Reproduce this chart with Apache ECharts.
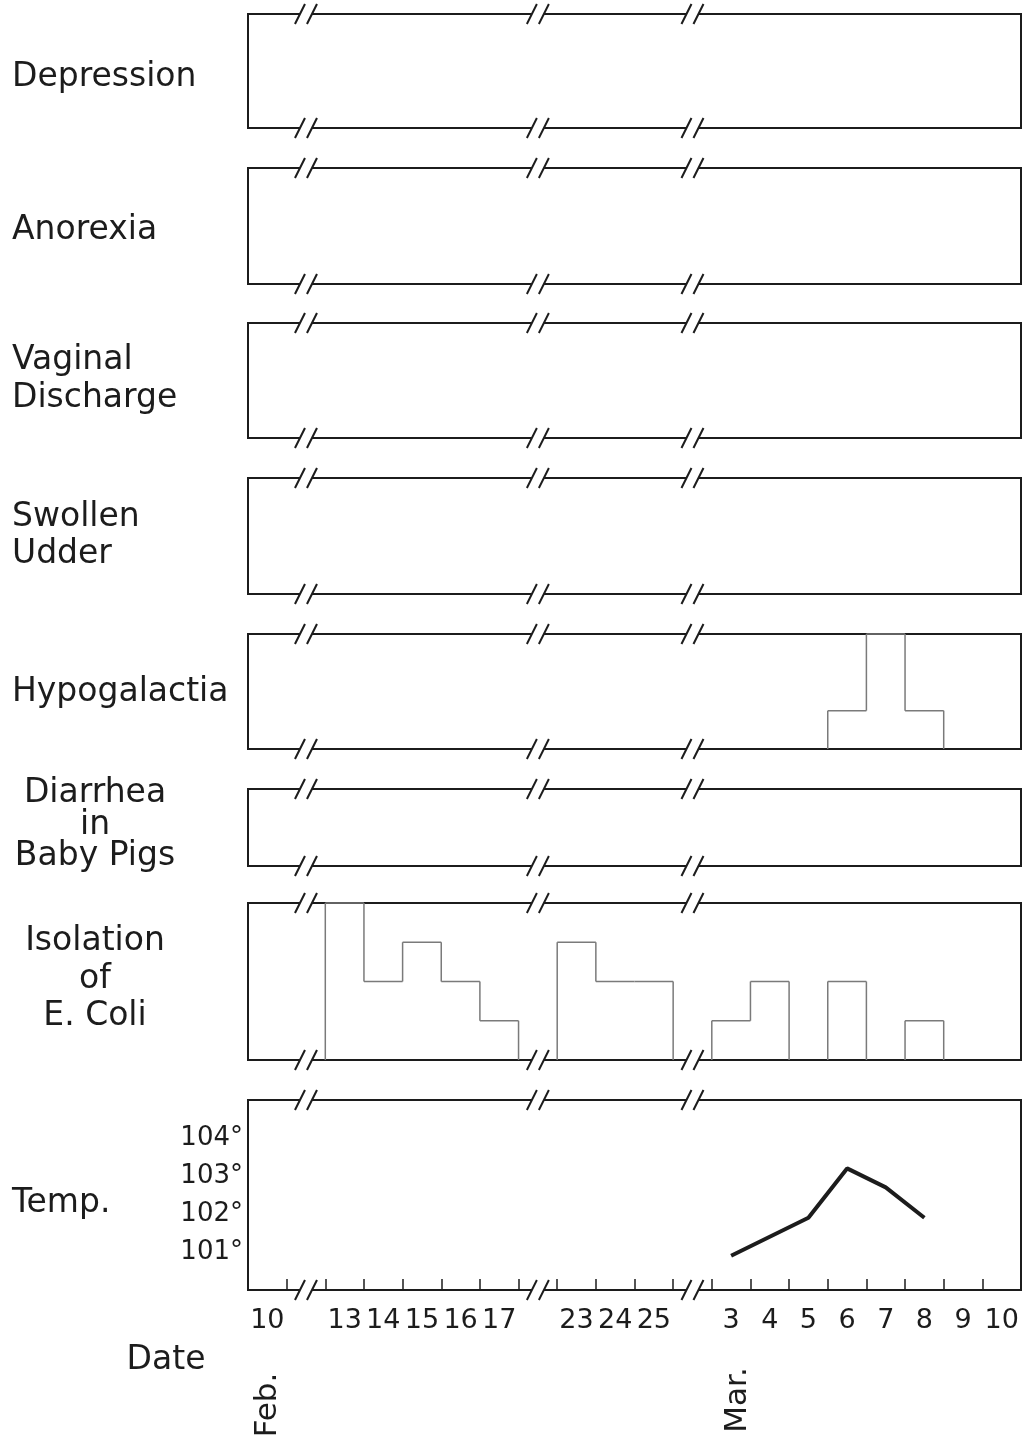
<!DOCTYPE html>
<html>
<head>
<meta charset="utf-8">
<script src="https://cdn.jsdelivr.net/npm/echarts@6/dist/echarts.min.js"></script>
<style>
html, body { margin: 0; padding: 0; background: #fff; }
#chart { width: 1023px; height: 1438px; }
</style>
</head>
<body>
<div id="chart"></div>
<script>
// day slots along the bottom; '' = broken (skipped) stretch of days
var days = ['10', '', '13', '14', '15', '16', '17', '', '23', '24', '25', '', '3', '4', '5', '6', '7', '8', '9', '10'];
var gapSlots = [1, 7, 11];

// symptom scores per slot (0 = none)
var depression   = [0, 0, 0, 0, 0, 0, 0, 0, 0, 0, 0, 0, 0, 0, 0, 0, 0, 0, 0, 0];
var anorexia     = [0, 0, 0, 0, 0, 0, 0, 0, 0, 0, 0, 0, 0, 0, 0, 0, 0, 0, 0, 0];
var vaginal      = [0, 0, 0, 0, 0, 0, 0, 0, 0, 0, 0, 0, 0, 0, 0, 0, 0, 0, 0, 0];
var udder        = [0, 0, 0, 0, 0, 0, 0, 0, 0, 0, 0, 0, 0, 0, 0, 0, 0, 0, 0, 0];
var hypogalactia = [0, 0, 0, 0, 0, 0, 0, 0, 0, 0, 0, 0, 0, 0, 0, 1, 3, 1, 0, 0];
var diarrhea     = [0, 0, 0, 0, 0, 0, 0, 0, 0, 0, 0, 0, 0, 0, 0, 0, 0, 0, 0, 0];
var ecoli        = [0, 0, 4, 2, 3, 2, 1, 0, 3, 2, 2, 0, 1, 2, 0, 2, 0, 1, 0, 0];
var temp = [null, null, null, null, null, null, null, null, null, null, null, null,
            100.9, null, 101.9, 103.2, 102.7, 101.9, null, null];
var tempTicks = [101, 102, 103, 104];

var rowLabels = ['Depression', 'Anorexia', 'Vaginal\nDischarge', 'Swollen\nUdder',
                 'Hypogalactia', 'Diarrhea\nin\nBaby Pigs', 'Isolation\nof\nE. Coli', 'Temp.'];
var rowValues = [depression, anorexia, vaginal, udder, hypogalactia, diarrhea, ecoli];
var rowMax = [3, 3, 3, 3, 3, 2, 4];

// layout
var panelTops = [14, 168, 323, 478, 634, 789, 903, 1100];
var panelHeights = [114, 116, 115, 116, 115, 77, 157, 190];
var labelY = [77, 230, 379, 536, 692, 825, 979, 1203];
var labelCentered = [false, false, false, false, false, true, true, false];
var labelLineH = [36, 36, 38, 37, 36, 31.5, 37.5, 36];

var FONT = '"DejaVu Sans", sans-serif';
var INK = '#1c1c1c';

function stepRender(vals) {
    return function (params, api) {
        var i = api.value(0);
        var v = vals[i] || 0;
        var prev = i > 0 ? (vals[i - 1] || 0) : 0;
        var w = api.size([1, 0])[0];
        var top = api.coord([i, v]);
        var base = api.coord([i, 0])[1];
        var prevY = api.coord([i, prev])[1];
        var x0 = top[0] - w / 2, x1 = top[0] + w / 2;
        var style = { stroke: '#7a7a7a', lineWidth: 1.5 };
        var kids = [];
        if (v !== prev) {
            kids.push({ type: 'line', shape: { x1: x0, y1: prevY, x2: x0, y2: top[1] }, style: style });
        }
        if (v > 0) {
            kids.push({ type: 'line', shape: { x1: x0, y1: top[1], x2: x1, y2: top[1] }, style: style });
            if (i === vals.length - 1) {
                kids.push({ type: 'line', shape: { x1: x1, y1: top[1], x2: x1, y2: base }, style: style });
            }
        }
        return { type: 'group', children: kids };
    };
}

function breakRender(params, api) {
    var cx = api.coord([api.value(0), api.value(1)])[0];
    var cs = params.coordSys;
    var kids = [];
    [cs.y, cs.y + cs.height].forEach(function (y) {
        kids.push({ type: 'rect', shape: { x: cx - 6, y: y - 4, width: 12, height: 8 }, style: { fill: '#fff' } });
        [-6, 6].forEach(function (d) {
            kids.push({ type: 'line', shape: { x1: cx + d - 5, y1: y + 10, x2: cx + d + 5, y2: y - 10 },
                        style: { stroke: INK, lineWidth: 2 } });
        });
    });
    return { type: 'group', children: kids };
}

var grids = [], xAxes = [], yAxes = [], series = [], graphics = [];
for (var p = 0; p < 8; p++) {
    grids.push({
        left: 248, right: 2, top: panelTops[p], height: panelHeights[p],
        show: true, borderColor: INK, borderWidth: 2, backgroundColor: 'transparent'
    });
    var isTemp = p === 7;
    xAxes.push({
        type: 'category', gridIndex: p, data: days, boundaryGap: true,
        show: isTemp,
        axisLine: { show: false },
        axisTick: { show: isTemp, inside: true, length: 11, interval: 0, lineStyle: { color: INK, width: 1.5 } },
        axisLabel: { show: isTemp, interval: 0, margin: 17, fontSize: 27, color: INK, fontFamily: FONT }
    });
    if (isTemp) {
        yAxes.push({
            type: 'value', gridIndex: p, min: 100, max: 105, interval: 1,
            axisLine: { show: false }, axisTick: { show: false }, splitLine: { show: false },
            axisLabel: {
                margin: 5, fontSize: 26, color: INK, fontFamily: FONT,
                formatter: function (v) { return tempTicks.indexOf(v) >= 0 ? v + '°' : ''; }
            }
        });
        series.push({
            type: 'line', xAxisIndex: p, yAxisIndex: p, data: temp, connectNulls: true,
            symbol: 'none', lineStyle: { color: INK, width: 4 }, z: 3
        });
    } else {
        yAxes.push({ type: 'value', gridIndex: p, min: 0, max: rowMax[p], show: false, splitLine: { show: false } });
        series.push({
            type: 'custom', xAxisIndex: p, yAxisIndex: p,
            data: rowValues[p].map(function (v, i) { return [i, v]; }),
            encode: { x: 0, y: 1 }, clip: false,
            renderItem: stepRender(rowValues[p])
        });
    }
    series.push({
        type: 'custom', xAxisIndex: p, yAxisIndex: p, z: 5,
        data: gapSlots.map(function (g) { return [g, isTemp ? 100 : 0]; }),
        encode: { x: 0, y: 1 }, clip: false,
        renderItem: breakRender
    });
    graphics.push({
        type: 'text',
        x: labelCentered[p] ? 95 : 12, y: labelY[p],
        style: {
            text: rowLabels[p], fill: INK, font: '33px ' + FONT,
            textAlign: labelCentered[p] ? 'center' : 'left', textVerticalAlign: 'middle',
            lineHeight: labelLineH[p]
        }
    });
}

graphics.push({ type: 'text', x: 166, y: 1360,
    style: { text: 'Date', fill: INK, font: '33px ' + FONT, textAlign: 'center', textVerticalAlign: 'middle' } });
graphics.push({ type: 'text', x: 268, y: 1405, rotation: Math.PI / 2,
    style: { text: 'Feb.', fill: INK, font: '31px ' + FONT, textAlign: 'center', textVerticalAlign: 'middle' } });
graphics.push({ type: 'text', x: 738, y: 1400, rotation: Math.PI / 2,
    style: { text: 'Mar.', fill: INK, font: '31px ' + FONT, textAlign: 'center', textVerticalAlign: 'middle' } });

var chart = echarts.init(document.getElementById('chart'));
chart.setOption({
    animation: false,
    backgroundColor: '#fff',
    textStyle: { fontFamily: FONT },
    grid: grids,
    xAxis: xAxes,
    yAxis: yAxes,
    series: series,
    graphic: graphics
});
</script>
</body>
</html>
